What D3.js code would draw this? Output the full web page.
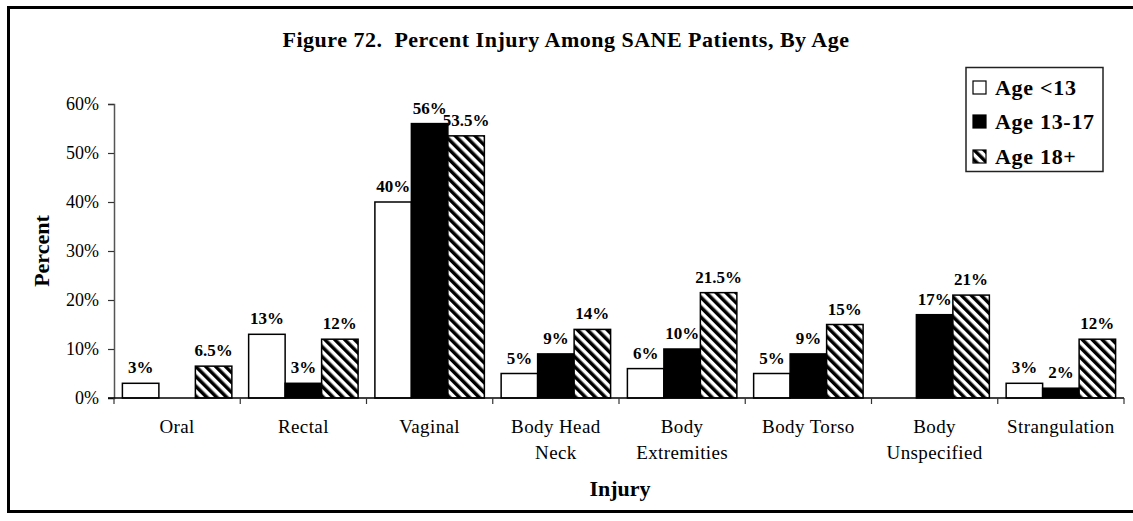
<!DOCTYPE html>
<html>
<head>
<meta charset="utf-8">
<script src="https://cdn.jsdelivr.net/npm/d3@7"></script>
<style>
  html, body { margin: 0; padding: 0; background: #fff; }
  svg text { font-family: "Liberation Serif", "DejaVu Serif", serif; }
</style>
</head>
<body>
<svg id="chart" width="1133" height="521"></svg>
<script>
// Injury categories ("|" marks a wrapped axis label)
const categories = ["Oral", "Rectal", "Vaginal", "Body Head|Neck", "Body|Extremities", "Body Torso", "Body|Unspecified", "Strangulation"];
const seriesNames = ["Age <13", "Age 13-17", "Age 18+"];
// Percent injured per age group; null = no bar reported
const ageUnder13 = [3, 13, 40, 5, 6, 5, null, 3];
const age13to17 = [null, 3, 56, 9, 10, 9, 17, 2];
const age18plus = [6.5, 12, 53.5, 14, 21.5, 15, 21, 12];
const yTicks = [0, 10, 20, 30, 40, 50, 60];

const seriesValues = [ageUnder13, age13to17, age18plus];
const fills = ["#fff", "#000", "url(#hatch)"];

const svg = d3.select("#chart");
const left = 114, right = 1124;
const y0 = 398, yTop = 104;

// Diagonal hatch pattern for the 18+ series
const defs = svg.append("defs");
const pat = defs.append("pattern")
  .attr("id", "hatch")
  .attr("patternUnits", "userSpaceOnUse")
  .attr("width", 7).attr("height", 7)
  .attr("patternTransform", "rotate(-45)");
pat.append("rect").attr("width", 7).attr("height", 7).attr("fill", "#fff");
pat.append("rect").attr("x", 0).attr("width", 3.5).attr("height", 7).attr("fill", "#000");

// Outer frame
svg.append("rect")
  .attr("x", 8.5).attr("y", 7.5)
  .attr("width", 1135).attr("height", 504)
  .attr("fill", "#fff")
  .attr("stroke", "#000").attr("stroke-width", 3);

// Scales
const x = d3.scaleBand().domain(categories).range([left, right]).padding(0);
const x1 = d3.scaleBand().domain(d3.range(3)).range([0, x.bandwidth()]).paddingInner(0).paddingOuter(0.23);
const y = d3.scaleLinear().domain([0, 60]).range([y0, yTop]);

// Title
svg.append("text")
  .attr("x", 566).attr("y", 47)
  .attr("text-anchor", "middle")
  .attr("font-weight", "bold").attr("font-size", 22)
  .attr("letter-spacing", 0.5)
  .attr("xml:space", "preserve")
  .text("Figure 72.  Percent Injury Among SANE Patients, By Age");

// Y axis
const yAxis = svg.append("g")
  .attr("transform", `translate(${left},0)`)
  .call(d3.axisLeft(y).tickValues(yTicks).tickFormat(d => d + "%").tickSize(6).tickPadding(9))
  .attr("font-family", null).attr("font-size", null);
yAxis.select(".domain").attr("stroke", "#555").attr("stroke-width", 1.5);
yAxis.selectAll(".tick line").attr("stroke", "#333").attr("stroke-width", 1.2);
yAxis.selectAll(".tick text").attr("font-size", 18).attr("fill", "#000");

// Bars and value labels
const groups = svg.append("g").selectAll("g")
  .data(categories)
  .join("g")
  .attr("transform", d => `translate(${x(d)},0)`);

seriesValues.forEach((vals, s) => {
  const present = groups.filter((d, i) => vals[i] != null);
  const v = d => vals[categories.indexOf(d)];
  present.append("rect")
    .attr("x", x1(s))
    .attr("width", x1.bandwidth())
    .attr("y", d => y(v(d)))
    .attr("height", d => y0 - y(v(d)))
    .attr("fill", fills[s])
    .attr("stroke", "#000").attr("stroke-width", 1.5);
  present.append("text")
    .attr("x", x1(s) + x1.bandwidth() / 2)
    .attr("y", d => y(v(d)) - 10)
    .attr("text-anchor", "middle")
    .attr("font-weight", "bold").attr("font-size", 17)
    .text(d => v(d) + "%");
});

// X axis
const xAxis = svg.append("g").attr("transform", `translate(0,${y0})`);
xAxis.append("line")
  .attr("x1", left - 6).attr("x2", right)
  .attr("stroke", "#000").attr("stroke-width", 1.5);
const boundaries = categories.map(c => x(c)).concat([right]);
xAxis.selectAll("line.tick")
  .data(boundaries)
  .join("line")
  .attr("class", "tick")
  .attr("x1", d => d).attr("x2", d => d)
  .attr("y1", 0).attr("y2", 6)
  .attr("stroke", "#333").attr("stroke-width", 1.2);
const lbl = xAxis.selectAll("text.cat")
  .data(categories)
  .join("text")
  .attr("class", "cat")
  .attr("text-anchor", "middle")
  .attr("font-size", 19)
  .attr("letter-spacing", 0.4)
  .attr("transform", d => `translate(${x(d) + x.bandwidth() / 2},35)`);
lbl.selectAll("tspan")
  .data(d => d.split("|"))
  .join("tspan")
  .attr("x", 0)
  .attr("dy", (d, i) => i === 0 ? 0 : 26)
  .text(d => d);

// Axis titles
svg.append("text")
  .attr("x", 620).attr("y", 496)
  .attr("text-anchor", "middle")
  .attr("font-weight", "bold").attr("font-size", 22)
  .text("Injury");
svg.append("text")
  .attr("transform", "translate(49,251) rotate(-90)")
  .attr("text-anchor", "middle")
  .attr("font-weight", "bold").attr("font-size", 22)
  .text("Percent");

// Legend
const legend = svg.append("g");
legend.append("rect")
  .attr("x", 966).attr("y", 67.5)
  .attr("width", 137).attr("height", 104)
  .attr("fill", "#fff").attr("stroke", "#222").attr("stroke-width", 1.5);
const rowY = [88, 122, 157];
seriesNames.forEach((name, s) => {
  legend.append("rect")
    .attr("x", 973).attr("y", rowY[s] - 7)
    .attr("width", 13).attr("height", 13)
    .attr("fill", fills[s]).attr("stroke", "#000").attr("stroke-width", 1.2);
  legend.append("text")
    .attr("x", 995).attr("y", rowY[s] + 7)
    .attr("font-weight", "bold").attr("font-size", 22)
    .attr("letter-spacing", 0.7)
    .text(name);
});
</script>
</body>
</html>
